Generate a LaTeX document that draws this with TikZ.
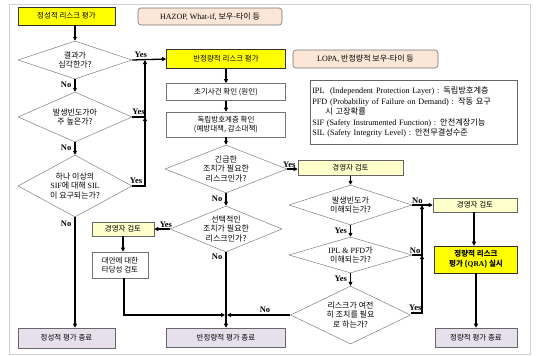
\documentclass[tikz,border=0pt]{standalone}
\usepackage{fontspec}
\setmainfont{Noto Sans CJK KR}
\newfontfamily\lat{Liberation Serif}
\usetikzlibrary{arrows.meta,shapes.geometric}
\definecolor{yel}{HTML}{FFFF00}
\definecolor{lyel}{HTML}{FFFFCC}
\definecolor{peach}{HTML}{FCE6D8}
\definecolor{lav}{HTML}{E6E0EC}
\definecolor{frame}{HTML}{D0D0D0}
\begin{document}
\begin{tikzpicture}[x=1pt,y=-1pt,
  every node/.style={inner sep=0pt, align=center},
  bx/.style={draw=black!55, line width=0.6pt, font=\fontsize{7.5}{9}\selectfont},
  yelbox/.style={bx, fill=yel, draw=black!80},
  mgr/.style={bx, fill=lyel, draw=black!60},
  note/.style={bx, fill=peach, draw=black!55, rounded corners=3pt},
  endbox/.style={bx, fill=lav, draw=black!60},
  dia/.style={shape=diamond, draw=black!50, line width=0.5pt, fill=white},
  dtxt/.style={align=center, font=\fontsize{8}{9.5}\selectfont},
  arr/.style={line width=1.3pt, -{Triangle[length=4pt,width=4pt]}},
  ln/.style={line width=1.3pt},
  yn/.style={font=\lat\bfseries\fontsize{8.5}{10}\selectfont},
]
\useasboundingbox (0,0) rectangle (536,356);
\draw[frame, line width=0.8pt] (9,4) rectangle (530,354);

% qualitative column
\node[yelbox, minimum width=97pt, minimum height=18pt] (q1) at (66.5,16) {정성적 리스크 평가};
\node[note, minimum width=144pt, minimum height=17pt, font=\fontsize{8}{9}\selectfont] (hazop) at (210,16.5) {{\lat HAZOP, What-if,} 보우-타이 등};
\node[dia, minimum width=114pt, minimum height=38pt, label={[dtxt]center:결과가\\심각한가?}] (d1) at (75,60) {};
\node[dia, minimum width=114pt, minimum height=50pt, label={[dtxt]center:발생빈도가아\\주 높은가?}] (d2) at (75,117) {};
\node[dia, minimum width=114pt, minimum height=62pt, label={[dtxt]center:하나 이상의\\{\lat SIF}에 대해 {\lat SIL}\\이 요구되는가?}] (d3) at (75,186) {};
\node[endbox, minimum width=97pt, minimum height=20pt] (qend) at (66.5,338) {정성적 평가 종료};

% semi-quantitative column
\node[yelbox, minimum width=119pt, minimum height=19pt] (semi) at (226,59) {반정량적 리스크 평가};
\node[note, minimum width=145pt, minimum height=18pt, font=\fontsize{8}{9}\selectfont] (lopa) at (365.5,59) {{\lat LOPA,} 반정량적 보우-타이 등};
\node[bx, minimum width=119pt, minimum height=17pt] (init) at (226,92) {초기사건 확인 (원인)};
\node[bx, minimum width=119pt, minimum height=25pt] (ipl) at (226,124.5) {독립방호계층 확인\\(예방대책, 감소대책)};
\node[dia, minimum width=122pt, minimum height=48pt, label={[dtxt]center:긴급한\\조치가 필요한\\리스크인가?}] (d4) at (226,169) {};
\node[dia, minimum width=112pt, minimum height=46pt, label={[dtxt]center:선택적인\\조치가 필요한\\리스크인가?}] (d8) at (226,229) {};
\node[mgr, minimum width=62pt, minimum height=14pt] (mgr3) at (123,229) {경영자 검토};
\node[bx, minimum width=56pt, minimum height=26pt] (alt) at (120,265) {대안에 대한\\타당성 검토};
\node[endbox, minimum width=119pt, minimum height=19pt] (send) at (226,337.5) {반정량적 평가 종료};

% management review branch
\node[mgr, minimum width=105pt, minimum height=15pt] (mgr1) at (350.5,168) {경영자 검토};
\node[dia, minimum width=123pt, minimum height=40pt, label={[dtxt]center:발생빈도가\\이해되는가?}] (d5) at (350.5,205) {};
\node[dia, minimum width=123pt, minimum height=36pt, label={[dtxt]center:{\lat IPL \& PFD}가\\이해되는가?}] (d6) at (350.5,255) {};
\node[dia, minimum width=120pt, minimum height=58pt, label={[dtxt]center:리스크가 여전\\히 조치를 필요\\로 하는가?}] (d7) at (350.5,315) {};

% quantitative column
\node[mgr, minimum width=84pt, minimum height=14pt] (mgr2) at (475,205) {경영자 검토};
\node[yelbox, minimum width=83pt, minimum height=27pt, font=\bfseries\fontsize{7.5}{10}\selectfont] (qra) at (476,259.5) {정량적 리스크\\평가 ({\lat QRA}) 실시};
\node[endbox, minimum width=82pt, minimum height=19pt] (qtend) at (476,337.5) {정량적 평가 종료};

% abbreviations
\node[draw=black!60, line width=0.5pt, anchor=north west, align=left, minimum width=207pt, minimum height=64pt, text width=203pt, inner xsep=2pt, font=\fontsize{8.2}{10.4}\selectfont] (legend) at (310,80)
{{\lat IPL\ \ (Independent Protection Layer) :} 독립방호계층\\
 {\lat PFD (Probability of Failure on Demand) :} 작동 요구\\
 \hspace*{1.6em}시 고장확률\\
 {\lat SIF (Safety Instrumented Function) :} 안전계장기능\\
 {\lat SIL (Safety Integrity Level) :} 안전무결성수준};

% connectors: qualitative
\draw[arr] (q1.south -| d1.north) -- (d1.north);
\draw[arr] (d1.south) -- node[yn, left=3pt, pos=0.45] (n1) {No} (d2.north);
\draw[arr] (d2.south) -- node[yn, left=3pt, pos=0.45] (n2) {No} (d3.north);
\draw[arr] (d3.south) -- node[yn, left=3pt, pos=0.06] (n3) {No} (qend.north -| d3.south);
\draw[arr] (d1.east) -- node[yn, above=2pt, pos=0.25] (y1) {Yes} (semi.west);
\coordinate (j1) at (145,117);
\coordinate (j2) at (145,186);
\draw[arr] (d2.east) -- node[yn, above=2pt, pos=0.5] (y2) {Yes} (j1) -- (d1.east -| j1);
\draw[arr] (d3.east) -- node[yn, above=2pt, pos=0.3] (y3) {Yes} (j2) -- (j1);

% connectors: semi-quantitative
\draw[arr] (semi) -- (init);
\draw[arr] (init) -- (ipl);
\draw[arr] (ipl) -- (d4.north);
\draw[arr] (d4.east) -- node[yn, above=1pt, pos=0.2] (y4) {Yes} (mgr1.west |- d4.east);
\draw[arr] (d4.south) -- node[yn, left=3pt, pos=0.45] (n4) {No} (d8.north);
\draw[arr] (d8.west) -- node[yn, above=1pt, pos=0.25] (y8) {Yes} (mgr3.east);
\draw[arr] (d8.south) -- node[yn, left=3pt, pos=0.06] (n8) {No} (send.north);
\draw[arr] (mgr3.south) -- (mgr3.south |- alt.north);
\coordinate (m1) at (226,315);
\draw[arr] (alt.south -| 124,0) -- (124,315) -- ([xshift=-1pt]m1);
\draw[arr] (d7.west) -- node[yn, above=2pt, pos=0.4] (n7) {No} ([xshift=1pt]m1);

% connectors: management review
\draw[arr] (mgr1.south -| d5.north) -- (d5.north);
\draw[arr] (d5.south) -- node[yn, left=3pt, pos=0.45] (y5) {Yes} (d6.north);
\draw[arr] (d6.south) -- node[yn, left=3pt, pos=0.45] (y6) {Yes} (d7.north);
\draw[arr] (d5.east) -- node[yn, above=1pt, pos=0.25] (n5) {No} (mgr2.west);
\coordinate (k1) at (422,255);
\coordinate (k2) at (422,313);
\draw[arr] (d6.east) -- node[yn, above=1pt, pos=0.3] (n6) {No} (k1) -- (d5.east -| k1);
\draw[arr] (d7.east |- k2) -- node[yn, above=2pt, pos=0.4] (y7) {Yes} (k2) -- (k1);
\draw[arr] (mgr2.south -| 474,0) -- (qra.north -| 474,0);
\draw[arr] (qra) -- (qtend);
\end{tikzpicture}
\end{document}
